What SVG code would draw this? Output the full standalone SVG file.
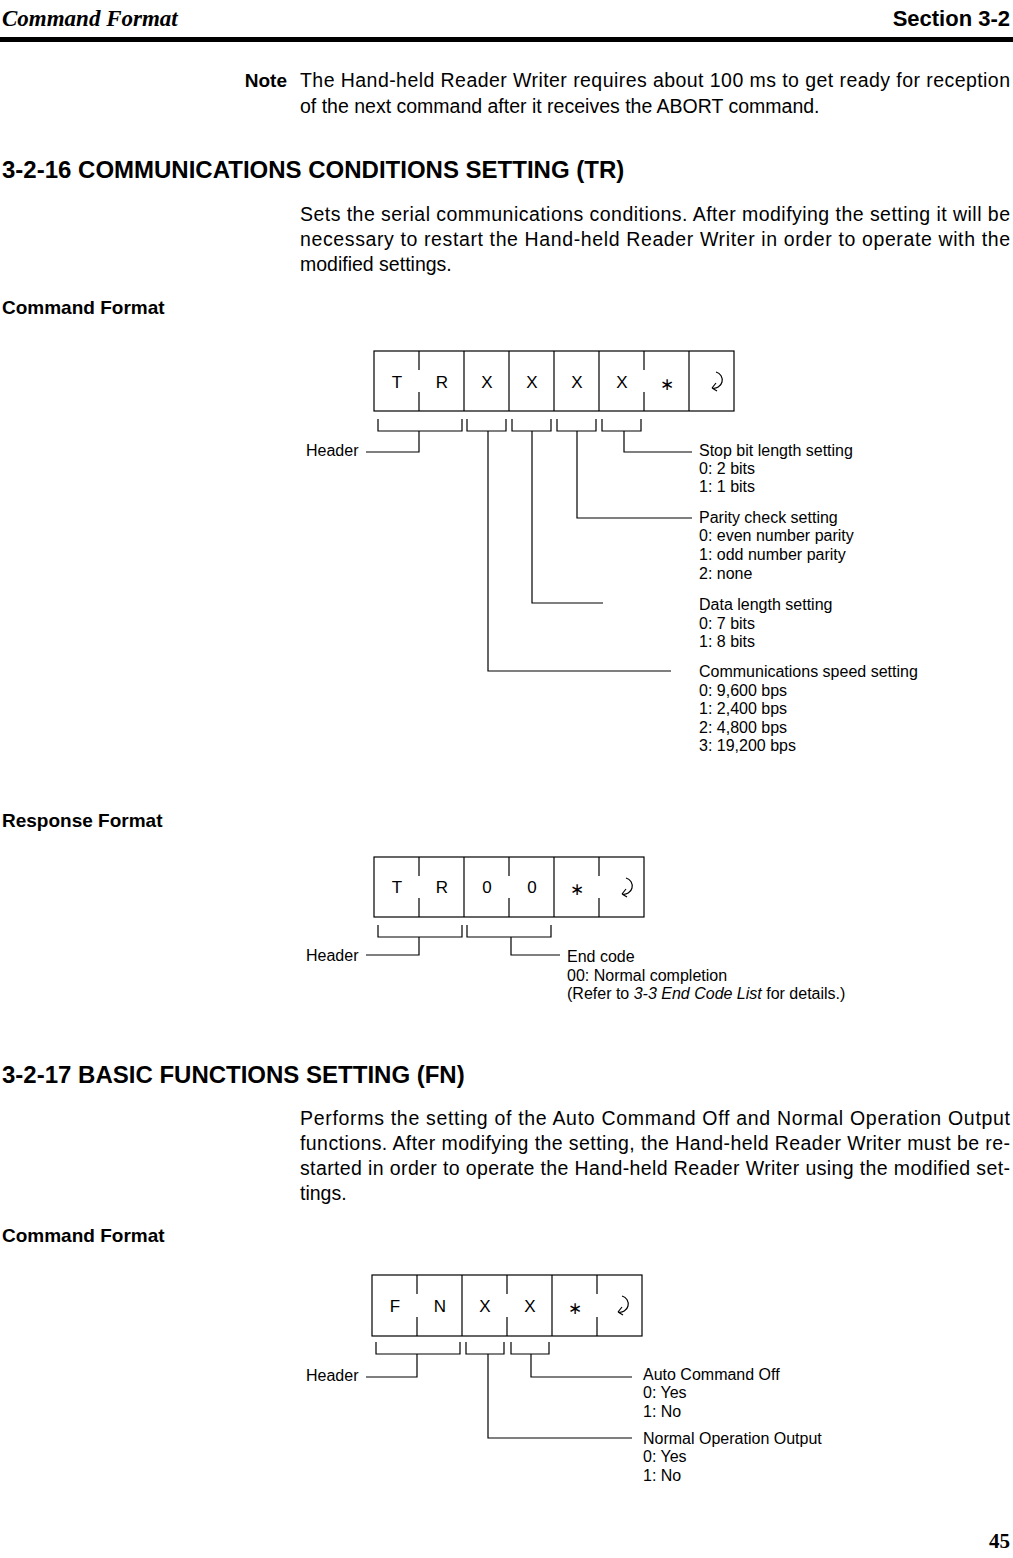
<svg xmlns="http://www.w3.org/2000/svg" width="1013" height="1558" viewBox="0 0 1013 1558">
<style>
text{font-family:"Liberation Sans",Arial,sans-serif;fill:#000}
.b{font-size:19.5px}
.h{font-size:24px;font-weight:bold}
.s{font-size:19px;font-weight:bold}
.d{font-size:16px}
.c{font-size:17px;text-anchor:middle}
.ln{fill:none;stroke:#000;stroke-width:1.2}
</style>
<rect width="1013" height="1558" fill="#fff"/>
<text x="2" y="26" style="font-family:'Liberation Serif',serif;font-size:23px;font-weight:bold;font-style:italic">Command Format</text>
<text x="1010" y="26" class="h" style="font-size:22px" text-anchor="end">Section    3-2</text>
<rect x="0" y="37" width="1013" height="5" fill="#000"/>
<text x="287" y="87" class="s" text-anchor="end">Note</text>
<text x="300" y="87" class="b" textLength="710">The Hand-held Reader Writer requires about 100 ms to get ready for reception</text>
<text x="300" y="113" class="b">of the next command after it receives the ABORT command.</text>
<text x="2" y="178" class="h">3-2-16 COMMUNICATIONS CONDITIONS SETTING (TR)</text>
<text x="300" y="221" class="b" textLength="710">Sets the serial communications conditions. After modifying the setting it will be</text>
<text x="300" y="246" class="b" textLength="710">necessary to restart the Hand-held Reader Writer in order to operate with the</text>
<text x="300" y="271" class="b">modified settings.</text>
<text x="2" y="314" class="s">Command Format</text>

<g id="cmd1">
<rect x="374" y="351" width="360" height="60" class="ln"/>
<path class="ln" d="M419 351v19M419 392v19M464 351v60M509 351v60M554 351v60M599 351v60M644 351v19M644 392v19M689 351v60"/>
<text x="397" y="388" class="c">T</text><text x="442" y="388" class="c">R</text>
<text x="487" y="388" class="c">X</text><text x="532" y="388" class="c">X</text>
<text x="577" y="388" class="c">X</text><text x="622" y="388" class="c">X</text>
<text x="667" y="390" class="c">∗</text>
<path class="ln" d="M716 372a8 8 0 0 1 -4 16M712 388l4 -5M712 388l5 3"/>
</g>
<g id="connectors1">
<path class="ln" d="M378 419v12h84v-12M467 419v12h39v-12M512 419v12h39v-12M557 419v12h39v-12M602 419v12h39v-12"/>
<path class="ln" d="M419 431v21h-53M624 431v21h68M577 431v87h115M532 431v172h71M488 431v240h183"/>
</g>
<text x="306" y="456" class="d">Header</text>
<text class="d"><tspan x="699" y="456">Stop bit length setting</tspan><tspan x="699" y="474">0:  2 bits</tspan><tspan x="699" y="492">1:  1 bits</tspan></text>
<text class="d"><tspan x="699" y="523">Parity check setting</tspan><tspan x="699" y="541">0:  even number parity</tspan><tspan x="699" y="560">1:  odd number parity</tspan><tspan x="699" y="579">2:  none</tspan></text>
<text class="d"><tspan x="699" y="610">Data length setting</tspan><tspan x="699" y="629">0:  7 bits</tspan><tspan x="699" y="647">1:  8 bits</tspan></text>
<text class="d"><tspan x="699" y="677">Communications speed setting</tspan><tspan x="699" y="696">0:  9,600 bps</tspan><tspan x="699" y="714">1:  2,400 bps</tspan><tspan x="699" y="733">2:  4,800 bps</tspan><tspan x="699" y="751">3:  19,200 bps</tspan></text>

<text x="2" y="827" class="s">Response Format</text>
<g id="resp1">
<rect x="374" y="857" width="270" height="60" class="ln"/>
<path class="ln" d="M419 857v19M419 898v19M464 857v60M509 857v19M509 898v19M554 857v60M599 857v19M599 898v19"/>
<text x="397" y="893" class="c">T</text><text x="442" y="893" class="c">R</text>
<text x="487" y="893" class="c">0</text><text x="532" y="893" class="c">0</text>
<text x="577" y="895" class="c">∗</text>
<path class="ln" d="M626 878a8 8 0 0 1 -4 16M622 894l4 -5M622 894l5 3"/>
</g>
<g id="connectors2">
<path class="ln" d="M378 925v12h84v-12M467 925v12h84v-12M419 937v18h-53M511 937v18h49"/>
</g>
<text x="306" y="961" class="d">Header</text>
<text class="d"><tspan x="567" y="962">End code</tspan><tspan x="567" y="981">00: Normal completion</tspan><tspan x="567" y="999">(Refer to <tspan font-style="italic">3-3 End Code List</tspan> for details.)</tspan></text>

<text x="2" y="1083" class="h">3-2-17 BASIC FUNCTIONS SETTING (FN)</text>
<text x="300" y="1125" class="b" textLength="710">Performs the setting of the Auto Command Off and Normal Operation Output</text>
<text x="300" y="1150" class="b" textLength="710">functions. After modifying the setting, the Hand-held Reader Writer must be re-</text>
<text x="300" y="1175" class="b" textLength="710">started in order to operate the Hand-held Reader Writer using the modified set-</text>
<text x="300" y="1200" class="b">tings.</text>
<text x="2" y="1242" class="s">Command Format</text>
<g id="cmd2">
<rect x="372" y="1275" width="270" height="61" class="ln"/>
<path class="ln" d="M417 1275v19M417 1317v19M462 1275v61M507 1275v19M507 1317v19M552 1275v61M597 1275v19M597 1317v19"/>
<text x="395" y="1312" class="c">F</text><text x="440" y="1312" class="c">N</text>
<text x="485" y="1312" class="c">X</text><text x="530" y="1312" class="c">X</text>
<text x="575" y="1314" class="c">∗</text>
<path class="ln" d="M622 1296a8 8 0 0 1 -4 16M618 1312l4 -5M618 1312l5 3"/>
</g>
<g id="connectors3">
<path class="ln" d="M376 1342v12h84v-12M466 1342v12h38v-12M511 1342v12h38v-12M417 1354v23h-51M531 1354v23h101M488 1354v84h144"/>
</g>
<text x="306" y="1381" class="d">Header</text>
<text class="d"><tspan x="643" y="1380">Auto Command Off</tspan><tspan x="643" y="1398">0:  Yes</tspan><tspan x="643" y="1417">1:  No</tspan></text>
<text class="d"><tspan x="643" y="1444">Normal Operation Output</tspan><tspan x="643" y="1462">0:  Yes</tspan><tspan x="643" y="1481">1:  No</tspan></text>
<text x="1010" y="1548" style="font-family:'Liberation Serif',serif;font-size:21px;font-weight:bold" text-anchor="end">45</text>
</svg>
